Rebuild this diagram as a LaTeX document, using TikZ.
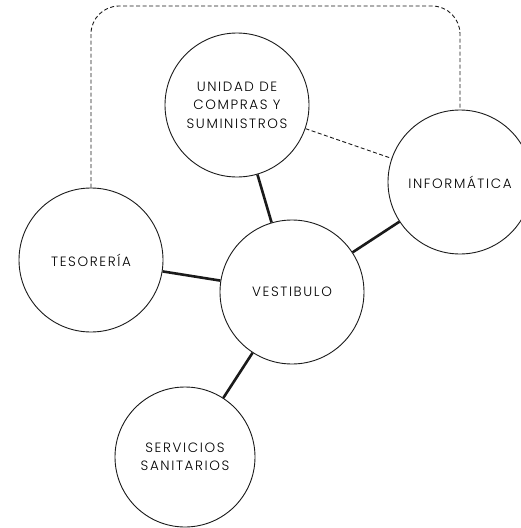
\documentclass[tikz,border=0pt]{standalone}
\usepackage{fontspec}
\setmainfont{Poppins}[UprightFont=* Light, LetterSpace=12]
\usetikzlibrary{positioning, calc}
\definecolor{trazo}{HTML}{1A1A1A}
\tikzset{
  area/.style={circle, draw=trazo, line width=0.9pt, fill=white, minimum size=144pt,
               inner sep=0pt, text centered, align=center, font=\fontsize{13.5}{18.5}\selectfont},
  enlace/.style={line width=2.6pt, color=trazo},
  relacion/.style={line width=0.9pt, color=trazo, dash pattern=on 4pt off 2.5pt}
}
\begin{document}
\begin{tikzpicture}[x=1pt, y=-1pt]
  \clip (0,0) rectangle (521,528);
  % Areas del edificio
  \node (uni) [area] at (237,105) {UNIDAD DE\\ COMPRAS Y\\ SUMINISTROS};
  \node (inf) [area] at (460,182) {INFORMÁTICA};
  \node (tes) [area] at (91,260) {TESORERÍA};
  \node (ves) [area] at (292,292) {VESTIBULO};
  \node (ser) [area, minimum size=140pt] at (185,457) {SERVICIOS\\ SANITARIOS};
  % Enlaces directos
  \draw [enlace] (uni) -- (ves); \draw [enlace] (tes) -- (ves);
  \draw [enlace] (ves) -- (inf); \draw [enlace] (ves) -- (ser);
  % Relaciones indirectas
  \coordinate (tope) at (0,6);
  \draw [relacion] (uni) -- (inf);
  \draw [relacion, rounded corners=28pt] (tes.north) |- (tope -| inf.north) -- (inf.north);
\end{tikzpicture}
\end{document}
